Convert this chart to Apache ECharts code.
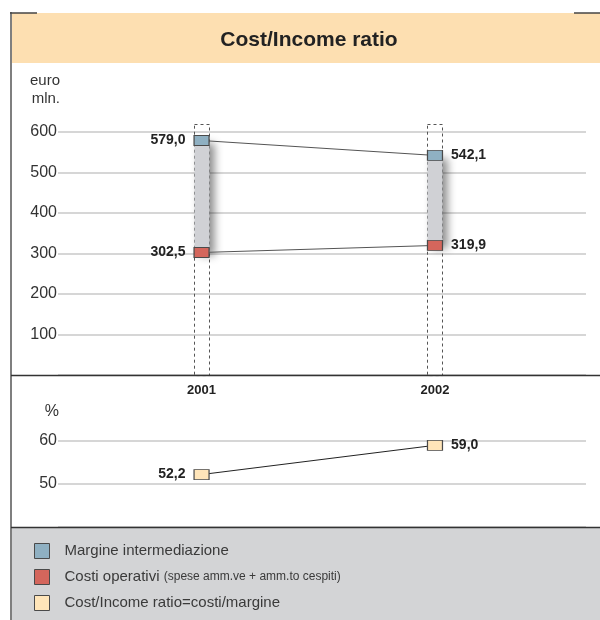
<!DOCTYPE html>
<html>
<head>
<meta charset="utf-8">
<script src="https://cdn.jsdelivr.net/npm/echarts@6/dist/echarts.min.js"></script>
<style>
  html, body { margin: 0; padding: 0; background: #ffffff; }
  #chart { width: 600px; height: 620px; }
</style>
</head>
<body>
<div id="chart"></div>
<script>
// Years shown on the shared horizontal scale
const years = ['2001', '2002'];

// Euro millions
const margine = [579.0, 542.1];     // Margine intermediazione
const costi = [302.5, 319.9];       // Costi operativi

// Percent
const ratio = [52.2, 59.0];         // Cost/Income ratio

// Axis ticks
const euroTicks = [0, 100, 200, 300, 400, 500, 600];
const pctTicks = [40, 50, 60];

const seriesNames = [
  'Margine intermediazione',
  'Costi operativi (spese amm.ve + amm.to cespiti)',
  'Cost/Income ratio=costi/margine'
];

const SANS = '"Liberation Sans", Arial, Helvetica, sans-serif';

const COLORS = {
  margine: '#8fb0c2',
  costi: '#d4665c',
  ratio: '#ffe5b9',
  band: '#fddfb1',
  legendBg: '#d3d4d6',
  frame: '#4a4a4a',
  grid: '#c9c9c9',
  range: '#d0d1d5'
};

// Horizontal extent so that the two years sit at the same place in both panels
const X_MIN = -0.615, X_MAX = 1.647;
// Dashed column frames run a bit above the top tick
const FRAME_TOP = 620;

const comma = v => v.toFixed(1).replace('.', ',');

const pointLabel = (i) => ({
  show: true,
  position: i === 0 ? 'left' : 'right',
  distance: 8,
  fontFamily: SANS,
  fontWeight: 'bold',
  fontSize: 14,
  color: '#222',
  formatter: p => comma(p.value[1])
});

const withLabels = arr => arr.map((v, i) => ({ value: [i, v], label: pointLabel(i) }));

const chart = echarts.init(document.getElementById('chart'), null, { renderer: 'canvas' });

const option = {
  animation: false,
  backgroundColor: '#ffffff',
  title: {
    text: 'Cost/Income ratio',
    left: 304,
    textAlign: 'center',
    top: 25,
    textStyle: { fontFamily: SANS, fontWeight: 'bold', fontSize: 21, color: '#222' }
  },
  graphic: [
    // title band
    { type: 'rect', z: -10, shape: { x: 12, y: 13, width: 588, height: 50 }, style: { fill: COLORS.band } },
    // legend panel
    { type: 'rect', z: -10, shape: { x: 12, y: 528, width: 588, height: 92 }, style: { fill: COLORS.legendBg } },
    // left border
    { type: 'line', z: 50, shape: { x1: 11, y1: 12, x2: 11, y2: 620 }, style: { stroke: '#555', lineWidth: 1.5 } },
    // short top rules
    { type: 'line', z: 50, shape: { x1: 10, y1: 13, x2: 37, y2: 13 }, style: { stroke: '#444', lineWidth: 1.5 } },
    { type: 'line', z: 50, shape: { x1: 574, y1: 13, x2: 600, y2: 13 }, style: { stroke: '#444', lineWidth: 1.5 } },
    // panel separators
    { type: 'line', z: 50, shape: { x1: 11, y1: 375.5, x2: 600, y2: 375.5 }, style: { stroke: '#333', lineWidth: 1.5 } },
    { type: 'line', z: 50, shape: { x1: 11, y1: 527.5, x2: 600, y2: 527.5 }, style: { stroke: '#333', lineWidth: 1.5 } }
  ],
  legend: {
    orient: 'vertical',
    left: 34,
    top: 543,
    padding: 0,
    icon: 'rect',
    itemWidth: 15,
    itemHeight: 15,
    itemGap: 10,
    selectedMode: false,
    data: seriesNames,
    itemStyle: { borderColor: COLORS.frame, borderWidth: 1 },
    formatter: name => {
      const k = name.indexOf(' (');
      if (k < 0) return '{a|' + name + '}';
      return '{a|' + name.slice(0, k) + '} {b|' + name.slice(k + 1) + '}';
    },
    textStyle: {
      fontFamily: SANS,
      fontSize: 15,
      color: '#3a3a3a',
      lineHeight: 15,
      rich: {
        a: { fontFamily: SANS, fontSize: 15, lineHeight: 15, color: '#3a3a3a', padding: [0, 0, 0, 10] },
        b: { fontFamily: SANS, fontSize: 12, lineHeight: 15, color: '#3a3a3a' }
      }
    }
  },
  grid: [
    { left: 58, right: 14, top: 132, bottom: 245 },
    { left: 58, right: 14, top: 441, bottom: 93 }
  ],
  xAxis: [
    {
      type: 'value', gridIndex: 0, min: X_MIN, max: X_MAX,
      axisLine: { show: false }, axisTick: { show: false }, splitLine: { show: false },
      axisLabel: {
        customValues: [0, 1],
        formatter: v => years[Math.round(v)] || '',
        margin: 9,
        fontFamily: SANS, fontWeight: 'bold', fontSize: 13, color: '#222'
      }
    },
    {
      type: 'value', gridIndex: 1, min: X_MIN, max: X_MAX, show: false
    }
  ],
  yAxis: [
    {
      type: 'value', gridIndex: 0,
      min: euroTicks[0], max: euroTicks[euroTicks.length - 1], interval: 100,
      name: 'euro\nmln.',
      nameLocation: 'end',
      nameGap: 24,
      nameTextStyle: { fontFamily: SANS, fontSize: 15, color: '#333', align: 'right', verticalAlign: 'bottom', lineHeight: 18, padding: [0, -2, 0, 0] },
      axisLine: { show: false, onZero: false }, axisTick: { show: false },
      axisLabel: { showMinLabel: false, margin: 1, fontFamily: SANS, fontSize: 16, color: '#333' },
      splitLine: { lineStyle: { color: COLORS.grid, width: 1.5 } }
    },
    {
      type: 'value', gridIndex: 1,
      min: pctTicks[0], max: pctTicks[pctTicks.length - 1], interval: 10,
      name: '%',
      nameLocation: 'end',
      nameGap: 29,
      nameTextStyle: { fontFamily: SANS, fontSize: 16, color: '#333', align: 'right', verticalAlign: 'middle', padding: [0, -1, 0, 0] },
      axisLine: { show: false, onZero: false }, axisTick: { show: false },
      axisLabel: { showMinLabel: false, margin: 1, fontFamily: SANS, fontSize: 16, color: '#333' },
      splitLine: { lineStyle: { color: COLORS.grid, width: 1.5 } }
    }
  ],
  series: [
    {
      // dashed column frames
      type: 'custom',
      xAxisIndex: 0, yAxisIndex: 0,
      silent: true,
      z: 1,
      clip: false,
      data: years.map((y, i) => [i, 0, FRAME_TOP]),
      encode: { x: 0, y: [1, 2] },
      renderItem: (params, api) => {
        const x = api.value(0);
        const top = api.coord([x, api.value(2)]);
        const bot = api.coord([x, api.value(1)]);
        const w = 15;
        return {
          type: 'rect',
          shape: { x: Math.round(top[0] - w / 2) + 0.5, y: Math.round(top[1]) + 0.5, width: w, height: bot[1] - top[1] },
          style: { fill: 'none', stroke: '#555', lineWidth: 1, lineDash: [3, 3] }
        };
      }
    },
    {
      // shaded span between costs and margin
      type: 'custom',
      xAxisIndex: 0, yAxisIndex: 0,
      silent: true,
      z: 2,
      data: years.map((y, i) => [i, costi[i], margine[i]]),
      encode: { x: 0, y: [1, 2] },
      renderItem: (params, api) => {
        const x = api.value(0);
        const lo = api.coord([x, api.value(1)]);
        const hi = api.coord([x, api.value(2)]);
        const w = 15;
        return {
          type: 'rect',
          shape: { x: Math.round(hi[0] - w / 2) + 0.5, y: hi[1], width: w, height: lo[1] - hi[1] },
          style: {
            fill: COLORS.range,
            shadowColor: 'rgba(0,0,0,0.45)',
            shadowBlur: 8,
            shadowOffsetX: 5,
            shadowOffsetY: 3
          }
        };
      }
    },
    {
      name: seriesNames[0],
      type: 'line',
      xAxisIndex: 0, yAxisIndex: 0,
      z: 5,
      data: withLabels(margine),
      symbol: 'rect',
      symbolSize: [15, 10],
      itemStyle: { color: COLORS.margine, borderColor: COLORS.frame, borderWidth: 1 },
      lineStyle: { color: '#555', width: 1 }
    },
    {
      name: seriesNames[1],
      type: 'line',
      xAxisIndex: 0, yAxisIndex: 0,
      z: 5,
      data: withLabels(costi),
      symbol: 'rect',
      symbolSize: [15, 10],
      itemStyle: { color: COLORS.costi, borderColor: COLORS.frame, borderWidth: 1 },
      lineStyle: { color: '#555', width: 1 }
    },
    {
      name: seriesNames[2],
      type: 'line',
      xAxisIndex: 1, yAxisIndex: 1,
      z: 5,
      data: withLabels(ratio),
      symbol: 'rect',
      symbolSize: [15, 10],
      itemStyle: { color: COLORS.ratio, borderColor: COLORS.frame, borderWidth: 1 },
      lineStyle: { color: '#222', width: 1 }
    }
  ]
};

chart.setOption(option);
</script>
</body>
</html>
